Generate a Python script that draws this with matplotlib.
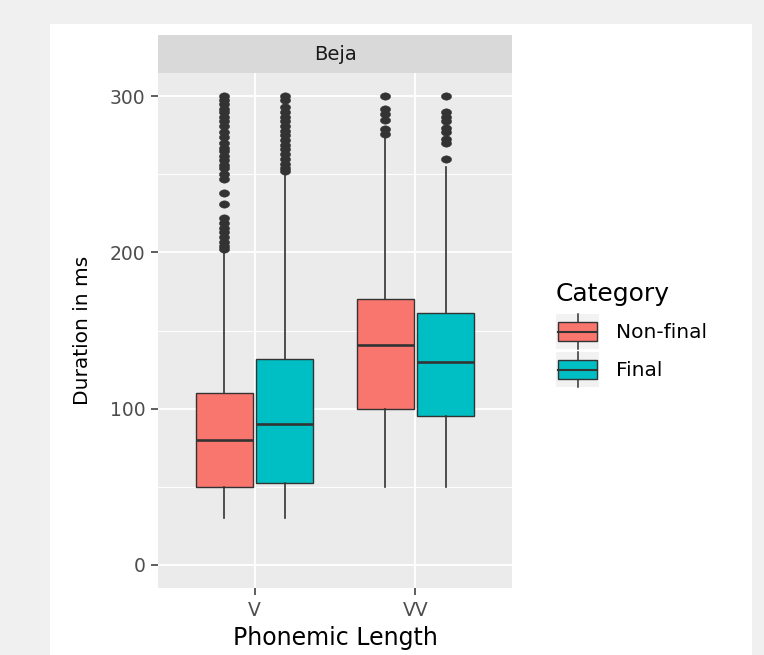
import matplotlib
matplotlib.use("Agg")
import matplotlib.pyplot as plt
from matplotlib.legend_handler import HandlerBase
from matplotlib.lines import Line2D
from matplotlib.patches import Rectangle
from matplotlib.path import Path
import numpy as np

# summary statistics of segment durations (ms) per phonemic length
categories = ["V", "VV"]
series = ["Non-final", "Final"]
colors = ["#F8766D", "#00BFC4"]

q1 = {"Non-final": [50, 100], "Final": [52, 95]}
med = {"Non-final": [80, 141], "Final": [90, 130]}
q3 = {"Non-final": [110, 170], "Final": [132, 161]}
whislo = {"Non-final": [30, 50], "Final": [30, 50]}
whishi = {"Non-final": [200, 274], "Final": [250, 255]}

fliers = {
    "Non-final": [
        [300, 298, 295, 292, 290, 287, 284, 281, 277, 274, 270, 267, 265,
         262, 259, 256, 254, 250, 247, 238, 231, 222, 219, 216, 213, 210,
         207, 204, 202],
        [300, 292, 289, 285, 279, 276],
    ],
    "Final": [
        [300, 298, 293, 290, 287, 284, 281, 278, 275, 272, 269, 266, 263,
         260, 257, 254, 252],
        [300, 290, 287, 284, 280, 277, 273, 270, 260],
    ],
}

yticks = [0, 100, 200, 300]

W, H = 764, 655
fig = plt.figure(figsize=(W / 100, H / 100), dpi=100, facecolor="#F0F0F0")
fig.patches.append(Rectangle((50 / W, 0), 702 / W, 631 / H, transform=fig.transFigure,
                             facecolor="white", edgecolor="none", zorder=-1))

ax = fig.add_axes([158 / W, 1 - 588 / H, 354 / W, 515 / H])
ax.set_facecolor("#EBEBEB")

# slightly wide dot, like the stretched R output
t = np.linspace(0, 2 * np.pi, 40)
dot = Path(np.column_stack([np.cos(t), 0.72 * np.sin(t)]), closed=True)

offset, width = 0.187, 0.35
for k, s in enumerate(series):
    stats = []
    for i in range(len(categories)):
        stats.append(dict(q1=q1[s][i], med=med[s][i], q3=q3[s][i],
                          whislo=whislo[s][i], whishi=whishi[s][i],
                          fliers=fliers[s][i]))
    pos = np.arange(1, len(categories) + 1) + (k - 0.5) * 2 * offset
    ax.bxp(stats, positions=pos, widths=width, patch_artist=True,
           showcaps=False, manage_ticks=False,
           boxprops=dict(facecolor=colors[k], edgecolor="#333333", linewidth=1.0),
           medianprops=dict(color="#333333", linewidth=1.9, solid_capstyle="butt"),
           whiskerprops=dict(color="#333333", linewidth=1.2),
           flierprops=dict(marker=dot, markersize=7.4, markerfacecolor="#333333",
                           markeredgecolor="#333333", markeredgewidth=0.3))

ax.set_xlim(0.4, len(categories) + 0.6)
ax.set_ylim(-15, 315)
ax.set_xticks(np.arange(1, len(categories) + 1))
ax.set_xticklabels(categories)
ax.set_yticks(yticks)
ax.set_yticks([50, 150, 250], minor=True)
ax.grid(which="major", color="white", linewidth=1.3)
ax.grid(which="minor", axis="y", color="white", linewidth=0.7)
ax.set_axisbelow(True)
for sp in ax.spines.values():
    sp.set_visible(False)
ax.tick_params(which="major", length=5, width=1.1, color="#333333",
               labelsize=13.5, labelcolor="#4D4D4D", pad=4)
ax.tick_params(which="minor", length=0)
ax.set_xlabel("Phonemic Length", fontsize=17, labelpad=4.5)
ax.set_ylabel("Duration in ms", fontsize=14.5, labelpad=13)

# facet strip
strip = fig.add_axes([158 / W, 1 - 73 / H, 354 / W, 38 / H])
strip.set_facecolor("#D9D9D9")
strip.set_xticks([]); strip.set_yticks([])
for sp in strip.spines.values():
    sp.set_visible(False)
strip.text(0.5, 0.5, "Beja", ha="center", va="center", fontsize=14, color="#1A1A1A")


class BoxKey(HandlerBase):
    def create_artists(self, legend, orig, xd, yd, w, h, fontsize, trans):
        bg = Rectangle((-xd, -yd), w, h, facecolor="#F2F2F2", edgecolor="none",
                       transform=trans)
        bx = Rectangle((-xd + 0.05 * w, -yd + 0.23 * h), 0.9 * w, 0.54 * h,
                       facecolor=orig.get_facecolor(), edgecolor="#333333",
                       linewidth=1.0, transform=trans)
        cx = -xd + w / 2
        wl = Line2D([cx, cx], [-yd, -yd + h], color="#333333", linewidth=1.1,
                    transform=trans)
        md = Line2D([-xd + 0.05 * w, -xd + 0.95 * w], [-yd + h / 2] * 2,
                    color="#333333", linewidth=1.5, transform=trans)
        return [bg, wl, bx, md]


handles = [Rectangle((0, 0), 1, 1, facecolor=c) for c in colors]
leg = fig.legend(handles, series, loc="center left",
                 bbox_to_anchor=(556 / W, 1 - 334.5 / H), frameon=False,
                 fontsize=14.5, title="Category", title_fontsize=18,
                 handler_map={Rectangle: BoxKey()}, handlelength=2.14,
                 handleheight=2.3, labelspacing=0.15, handletextpad=0.85,
                 borderpad=0, borderaxespad=0, alignment="left")
leg._legend_box.sep = 6  # a little more room under the title

fig.savefig("out.png", dpi=100, facecolor=fig.get_facecolor())
